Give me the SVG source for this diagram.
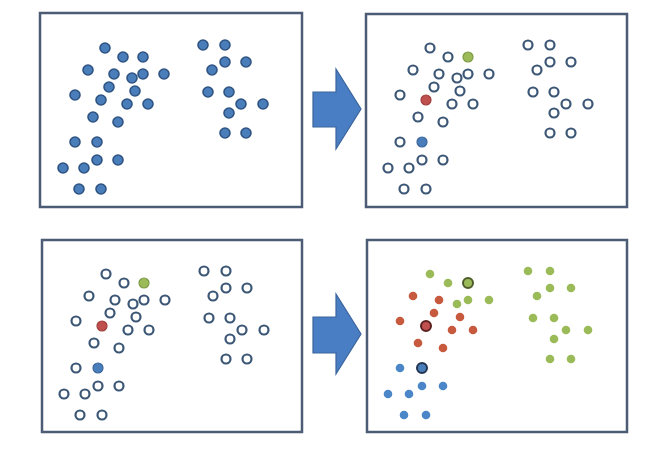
<svg xmlns="http://www.w3.org/2000/svg" width="661" height="466" viewBox="0 0 661 466">
<style>
.box{fill:#fff;stroke:#4B5C74;stroke-width:2.5}
.d{fill:#4A7EBB;stroke:#2F5382;stroke-width:1.6}
.o{fill:#fff;stroke:#3C5676;stroke-width:2.2}
.sg{fill:#9BBB59;stroke:#7E9A45;stroke-width:1.2}
.sr{fill:#C0504D;stroke:#9E3F3C;stroke-width:1.2}
.sb{fill:#4A7EBB;stroke:#3A669C;stroke-width:1.2}
.g{fill:#9BBB59}
.r{fill:#C75A3E}
.b{fill:#4A86C8}
.kg{fill:#9BBB59;stroke:#4E5A2A;stroke-width:2}
.kr{fill:#C0504D;stroke:#5A2020;stroke-width:2}
.kb{fill:#4A7EBB;stroke:#23344F;stroke-width:2}
.arrow{fill:#4A7EC4;stroke:#3A649C;stroke-width:1.2}
</style>
<g id="panel1">
<rect class="box" x="40" y="13" width="262" height="194"/>
<g class="d">
<circle cx="105" cy="48" r="5"/><circle cx="123" cy="57" r="5"/><circle cx="143" cy="57" r="5"/><circle cx="88" cy="70" r="5"/><circle cx="114" cy="74" r="5"/><circle cx="132" cy="78" r="5"/><circle cx="143" cy="74" r="5"/><circle cx="164" cy="74" r="5"/><circle cx="109" cy="87" r="5"/><circle cx="135" cy="91" r="5"/><circle cx="75" cy="95" r="5"/><circle cx="101" cy="100" r="5"/><circle cx="127" cy="104" r="5"/><circle cx="148" cy="104" r="5"/><circle cx="93" cy="117" r="5"/><circle cx="118" cy="122" r="5"/><circle cx="75" cy="142" r="5"/><circle cx="97" cy="142" r="5"/><circle cx="97" cy="160" r="5"/><circle cx="118" cy="160" r="5"/><circle cx="63" cy="168" r="5"/><circle cx="84" cy="168" r="5"/><circle cx="79" cy="189" r="5"/><circle cx="101" cy="189" r="5"/>
<circle cx="203" cy="45" r="5"/><circle cx="225" cy="45" r="5"/><circle cx="225" cy="62" r="5"/><circle cx="246" cy="62" r="5"/><circle cx="212" cy="70" r="5"/><circle cx="208" cy="92" r="5"/><circle cx="229" cy="92" r="5"/><circle cx="241" cy="104" r="5"/><circle cx="263" cy="104" r="5"/><circle cx="229" cy="113" r="5"/><circle cx="225" cy="133" r="5"/><circle cx="246" cy="133" r="5"/>
</g>
</g>
<g id="panel2">
<rect class="box" x="366" y="14" width="261" height="193"/>
<g transform="translate(325,0)">
<g class="o">
<circle cx="105" cy="48" r="4.5"/><circle cx="123" cy="57" r="4.5"/><circle cx="88" cy="70" r="4.5"/><circle cx="114" cy="74" r="4.5"/><circle cx="132" cy="78" r="4.5"/><circle cx="143" cy="74" r="4.5"/><circle cx="164" cy="74" r="4.5"/><circle cx="109" cy="87" r="4.5"/><circle cx="135" cy="91" r="4.5"/><circle cx="75" cy="95" r="4.5"/><circle cx="127" cy="104" r="4.5"/><circle cx="148" cy="104" r="4.5"/><circle cx="93" cy="117" r="4.5"/><circle cx="118" cy="122" r="4.5"/><circle cx="75" cy="142" r="4.5"/><circle cx="97" cy="160" r="4.5"/><circle cx="118" cy="160" r="4.5"/><circle cx="63" cy="168" r="4.5"/><circle cx="84" cy="168" r="4.5"/><circle cx="79" cy="189" r="4.5"/><circle cx="101" cy="189" r="4.5"/>
<circle cx="203" cy="45" r="4.5"/><circle cx="225" cy="45" r="4.5"/><circle cx="225" cy="62" r="4.5"/><circle cx="246" cy="62" r="4.5"/><circle cx="212" cy="70" r="4.5"/><circle cx="208" cy="92" r="4.5"/><circle cx="229" cy="92" r="4.5"/><circle cx="241" cy="104" r="4.5"/><circle cx="263" cy="104" r="4.5"/><circle cx="229" cy="113" r="4.5"/><circle cx="225" cy="133" r="4.5"/><circle cx="246" cy="133" r="4.5"/>
</g>
<circle class="sg" cx="143" cy="57" r="5"/>
<circle class="sr" cx="101" cy="100" r="5"/>
<circle class="sb" cx="97" cy="142" r="5"/>
</g>
</g>
<g id="panel3">
<rect class="box" x="42" y="240" width="260" height="192"/>
<g transform="translate(1,226)">
<g class="o">
<circle cx="105" cy="48" r="4.5"/><circle cx="123" cy="57" r="4.5"/><circle cx="88" cy="70" r="4.5"/><circle cx="114" cy="74" r="4.5"/><circle cx="132" cy="78" r="4.5"/><circle cx="143" cy="74" r="4.5"/><circle cx="164" cy="74" r="4.5"/><circle cx="109" cy="87" r="4.5"/><circle cx="135" cy="91" r="4.5"/><circle cx="75" cy="95" r="4.5"/><circle cx="127" cy="104" r="4.5"/><circle cx="148" cy="104" r="4.5"/><circle cx="93" cy="117" r="4.5"/><circle cx="118" cy="122" r="4.5"/><circle cx="75" cy="142" r="4.5"/><circle cx="97" cy="160" r="4.5"/><circle cx="118" cy="160" r="4.5"/><circle cx="63" cy="168" r="4.5"/><circle cx="84" cy="168" r="4.5"/><circle cx="79" cy="189" r="4.5"/><circle cx="101" cy="189" r="4.5"/>
<circle cx="203" cy="45" r="4.5"/><circle cx="225" cy="45" r="4.5"/><circle cx="225" cy="62" r="4.5"/><circle cx="246" cy="62" r="4.5"/><circle cx="212" cy="70" r="4.5"/><circle cx="208" cy="92" r="4.5"/><circle cx="229" cy="92" r="4.5"/><circle cx="241" cy="104" r="4.5"/><circle cx="263" cy="104" r="4.5"/><circle cx="229" cy="113" r="4.5"/><circle cx="225" cy="133" r="4.5"/><circle cx="246" cy="133" r="4.5"/>
</g>
<circle class="sg" cx="143" cy="57" r="5"/>
<circle class="sr" cx="101" cy="100" r="5"/>
<circle class="sb" cx="97" cy="142" r="5"/>
</g>
</g>
<g id="panel4">
<rect class="box" x="367" y="240" width="260" height="192"/>
<g transform="translate(325,226)">
<g class="g">
<circle cx="105" cy="48" r="4.3"/><circle cx="123" cy="57" r="4.3"/><circle cx="132" cy="78" r="4.3"/><circle cx="143" cy="74" r="4.3"/><circle cx="164" cy="74" r="4.3"/>
<circle cx="203" cy="45" r="4.3"/><circle cx="225" cy="45" r="4.3"/><circle cx="225" cy="62" r="4.3"/><circle cx="246" cy="62" r="4.3"/><circle cx="212" cy="70" r="4.3"/><circle cx="208" cy="92" r="4.3"/><circle cx="229" cy="92" r="4.3"/><circle cx="241" cy="104" r="4.3"/><circle cx="263" cy="104" r="4.3"/><circle cx="229" cy="113" r="4.3"/><circle cx="225" cy="133" r="4.3"/><circle cx="246" cy="133" r="4.3"/>
</g>
<g class="r">
<circle cx="88" cy="70" r="4.3"/><circle cx="114" cy="74" r="4.3"/><circle cx="109" cy="87" r="4.3"/><circle cx="135" cy="91" r="4.3"/><circle cx="75" cy="95" r="4.3"/><circle cx="127" cy="104" r="4.3"/><circle cx="148" cy="104" r="4.3"/><circle cx="93" cy="117" r="4.3"/><circle cx="118" cy="122" r="4.3"/>
</g>
<g class="b">
<circle cx="75" cy="142" r="4.3"/><circle cx="97" cy="160" r="4.3"/><circle cx="118" cy="160" r="4.3"/><circle cx="63" cy="168" r="4.3"/><circle cx="84" cy="168" r="4.3"/><circle cx="79" cy="189" r="4.3"/><circle cx="101" cy="189" r="4.3"/>
</g>
<circle class="kg" cx="143" cy="57" r="5"/>
<circle class="kr" cx="101" cy="100" r="5"/>
<circle class="kb" cx="97" cy="142" r="5"/>
</g>
</g>
<g id="connectors">
<path class="arrow" d="M313,92 H336 V69 L361,109 L336,149 V127 H313 Z"/>
<path class="arrow" d="M313,317 H336 V294 L361,334 L336,374 V353 H313 Z"/>
</g>
</svg>
